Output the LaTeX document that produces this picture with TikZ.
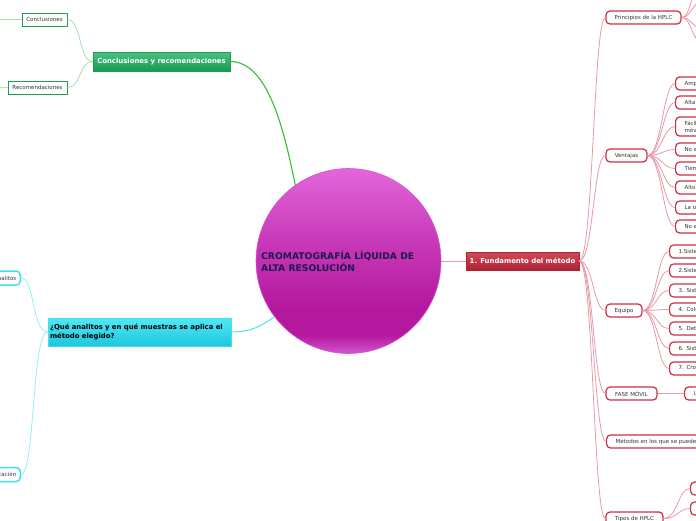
\documentclass[tikz,border=0pt]{standalone}
\usepackage{fontspec}
\setmainfont{DejaVu Sans}
\definecolor{gmainT}{HTML}{4CC281}
\definecolor{gmainB}{HTML}{169A4E}
\definecolor{gborder}{HTML}{1E9E52}
\definecolor{gline}{HTML}{33C033}
\definecolor{glight}{HTML}{98E3A6}
\definecolor{cmainT}{HTML}{52E8F6}
\definecolor{cmainB}{HTML}{1DC6DC}
\definecolor{cborder}{HTML}{3FE0F0}
\definecolor{clight}{HTML}{8CF0F8}
\definecolor{rmainT}{HTML}{D24A5A}
\definecolor{rmainB}{HTML}{AE2234}
\definecolor{rborder}{HTML}{CC2E44}
\definecolor{rlight}{HTML}{E89AA6}
\definecolor{ctext}{HTML}{1C1A50}
\definecolor{stext}{HTML}{333333}
\definecolor{ballA}{HTML}{D456CC}
\definecolor{ballB}{HTML}{B4189E}
\definecolor{ballC}{HTML}{C838B8}
\definecolor{ballD}{HTML}{E266DA}
\pgfdeclareverticalshading{ballshade}{100bp}{color(0bp)=(ballA); color(25bp)=(ballA); color(30bp)=(ballB); color(37bp)=(ballB); color(55bp)=(ballC); color(75bp)=(ballD); color(100bp)=(ballD)}
\tikzset{
  small/.style={font=\fontsize{5.5}{6.5}\selectfont, text=stext, fill=white, inner sep=0pt, minimum height=13pt},
  gsmall/.style={small, draw=gborder, line width=1pt},
  csmall/.style={small, draw=cborder, line width=1.5pt, rounded corners=4pt, minimum height=14pt},
  rsmall/.style={small, draw=rborder, line width=1.2pt, rounded corners=4pt},
  rchild/.style={rsmall, anchor=west, align=left, inner xsep=9pt, text width=160pt},
  gl/.style={draw=glight, line width=0.75pt},
  cl/.style={draw=clight, line width=0.75pt},
  rl/.style={draw=rlight, line width=0.8pt},
}
\begin{document}
\begin{tikzpicture}[x=1pt,y=-1pt]
\useasboundingbox (0,0) rectangle (696,520);
\clip (0,0) rectangle (696,520);
\fill[white] (0,0) rectangle (696,520);

% central topic
\node[circle, minimum size=185pt, draw=ballA, line width=0.6pt, shading=ballshade, inner sep=0pt] (ball) at (348.5,261) {};
\node[anchor=west, align=left, font=\bfseries\fontsize{9.2}{11.5}\selectfont, text=ctext, inner sep=0pt] (balltxt) at (261,261.5) {CROMATOGRAFÍA LÍQUIDA DE\\ALTA RESOLUCIÓN};

% green branch
\node[draw=gborder, line width=0.6pt, top color=gmainT, bottom color=gmainB, minimum width=137pt, minimum height=19pt, inner sep=0pt, text=white, font=\bfseries\fontsize{6.9}{8}\selectfont] (gmain) at (161.5,61.5) {Conclusiones y recomendaciones};
\node[gsmall, minimum width=45pt] (concl) at (44.5,19.5) {Conclusiones};
\node[gsmall, minimum width=59pt] (recom) at (37.5,87.5) {Recomendaciones};
\coordinate (conclL) at (-4,19.5);
\coordinate (recomL) at (-4,88);
\draw[draw=gline, line width=1.1pt] (ball.125) .. controls (284,130) and (268,61.5) .. (gmain.east);
\draw[gl] (gmain.west) .. controls +(-14,0) and +(14,0) .. (concl.east);
\draw[gl] (gmain.west) .. controls +(-14,0) and +(14,0) .. (recom.east);
\draw[gl] (concl.west) -- (conclL);
\draw[gl] (recom.west) -- (recomL);

% cyan branch
\node[draw=cborder, line width=0.6pt, top color=cmainT, bottom color=cmainB, minimum width=183pt, minimum height=28pt, inner sep=0pt, text width=179pt, align=left, text=black, font=\bfseries\fontsize{6.9}{9.5}\selectfont] (cq) at (139.5,332) {¿Qué analitos y en qué muestras se aplica el\\método elegido?};
\node[csmall, anchor=east, inner xsep=4pt] (anal) at (21,278) {Analitos};
\node[csmall, anchor=east, inner xsep=4pt] (aplic) at (21,474.5) {Aplicación};
\draw[draw=cborder, line width=0.9pt] (ball.217) .. controls (260,327) and (250,332) .. (cq.east);
\draw[cl] (cq.west) .. controls +(-16,0) and +(14,0) .. (anal.east);
\draw[cl] (cq.west) .. controls +(-16,0) and +(14,0) .. (aplic.east);

% red branch
\node[draw=rmainB, line width=0.6pt, top color=rmainT, bottom color=rmainB, minimum width=113pt, minimum height=18pt, inner sep=0pt, text=white, font=\bfseries\fontsize{6.9}{8}\selectfont] (fund) at (522.5,261) {1. Fundamento del método};
\draw[draw=rlight, line width=0.9pt] (ball.east) -- (fund.west);

\node[rsmall, minimum width=75pt] (princ) at (643.5,17.5) {Principios de la HPLC};
\node[rsmall, minimum width=41pt] (vent) at (626.5,155.5) {Ventajas};
\node[rsmall, minimum width=36pt] (equipo) at (624,310.5) {Equipo};
\node[rsmall, minimum width=51pt] (fase) at (631.5,393.5) {FASE MÓVIL};
\node[rsmall, anchor=west, inner xsep=9pt] (metod) at (606,441.5) {Métodos en los que se puede aplicar la HPLC};
\node[rsmall, minimum width=57pt] (tipos) at (634.5,518.5) {Tipos de HPLC};

\foreach \t in {princ,vent,equipo,fase,metod,tipos}
  \draw[rl] (fund.east) .. controls +(14,0) and +(-12,0) .. (\t.west);

% principios children (off canvas)
\coordinate (p1) at (700,-12);
\coordinate (p2) at (702,2);
\coordinate (p3) at (702,28);
\coordinate (p4) at (702,42);
\foreach \t in {p1,p2,p3,p4}
  \draw[rl] (princ.east) .. controls +(10,0) and +(-10,0) .. (\t);

% ventajas children
\node[rchild] (v1) at (675,83.5) {Amplio rango de aplicación};
\node[rchild] (v2) at (675,102.5) {Alta resolución};
\node[rchild, minimum height=19pt, font=\fontsize{5.5}{7}\selectfont] (v3) at (675,126.5) {Fácil manejo\\móvil};
\node[rchild] (v4) at (675,149.5) {No es destructiva};
\node[rchild] (v5) at (675,168.5) {Tiempo de análisis corto};
\node[rchild] (v6) at (675,187.5) {Alto grado de automatización};
\node[rchild] (v7) at (675,207.5) {La obtención de resultados};
\node[rchild] (v8) at (675,226.5) {No está limitada por la volatilidad};
\foreach \t in {v1,v2,v3,v4,v5,v6,v7,v8}
  \draw[rl] (vent.east) .. controls +(14,0) and +(-12,0) .. (\t.west);

% equipo children
\node[rchild] (e1) at (669,251.5) {1.Sistema de suministro};
\node[rchild] (e2) at (669,270.5) {2.Sistema de bombeo};
\node[rchild] (e3) at (669,290.5) {3. Sistema de inyección};
\node[rchild] (e4) at (669,309.5) {4. Columna};
\node[rchild] (e5) at (669,328.5) {5. Detector};
\node[rchild] (e6) at (669,348.5) {6. Sistema de registro};
\node[rchild] (e7) at (669,368.5) {7. Cromatograma};
\foreach \t in {e1,e2,e3,e4,e5,e6,e7}
  \draw[rl] (equipo.east) .. controls +(14,0) and +(-12,0) .. (\t.west);

% fase movil child
\node[rchild] (f1) at (684,393.5) {Utilizada};
\draw[rl] (fase.east) -- (f1.west);

% tipos children
\node[rchild] (t1) at (690,488.5) {Normal};
\node[rchild] (t2) at (690,508.5) {Inversa};
\draw[rl] (tipos.east) .. controls +(14,0) and +(-12,0) .. (t1.west);
\draw[rl] (tipos.east) .. controls +(14,0) and +(-12,0) .. (t2.west);
\end{tikzpicture}
\end{document}
